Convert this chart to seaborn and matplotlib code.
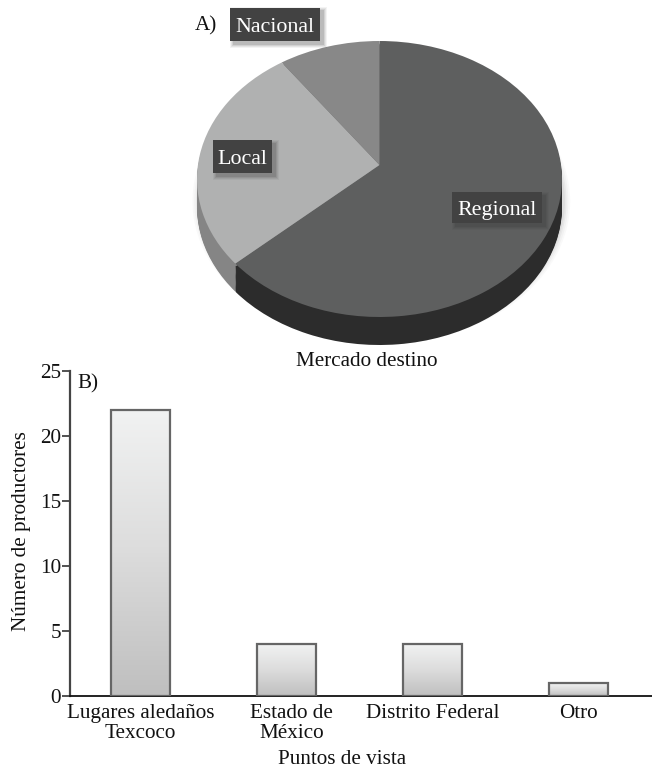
import numpy as np
import matplotlib
matplotlib.use("Agg")
import matplotlib.pyplot as plt
from matplotlib.patches import Rectangle, Ellipse
from matplotlib.transforms import Transform, ScaledTranslation
from matplotlib.colors import LinearSegmentedColormap
import seaborn as sns
import pandas as pd

# ---- data ----
market_labels = ["Regional", "Local", "Nacional"]
market_shares = [64.5, 26.5, 9]
market_colors = ["#5e5f5f", "#b0b1b1", "#888888"]
side_colors = ["#2c2c2c", "#858585", "#6e6e6e"]
places = ["Lugares aledaños\nTexcoco", "Estado de\nMéxico", "Distrito Federal", "Otro"]
producers = [22, 4, 4, 1]
y_ticks = [0, 5, 10, 15, 20, 25]

W, H = 652, 770
sns.set_theme(style="white")
plt.rcParams["font.family"] = ["Liberation Serif", "DejaVu Serif"]
fig = plt.figure(figsize=(W / 100, H / 100), dpi=100, facecolor="white")
FS = 15.2


def rect_px(x0, y0, x1, y1):
    return [x0 / W, 1 - y1 / H, (x1 - x0) / W, (y1 - y0) / H]


def ftext(x, y, s, **kw):
    kw.setdefault("fontsize", FS)
    kw.setdefault("color", "#111111")
    kw.setdefault("ha", "center")
    kw.setdefault("va", "center")
    return fig.text(x / W, 1 - y / H, s, **kw)


# ---- A) pie ----
class ApexShift(Transform):
    """Keeps the rim of the unit disc fixed and moves its centre (pseudo-3D tilt)."""
    input_dims = output_dims = 2

    def __init__(self, dy):
        super().__init__()
        self.dy = dy

    def transform_non_affine(self, xy):
        xy = np.asarray(xy, float)
        r = np.clip(np.hypot(xy[:, 0], xy[:, 1]), 0, 1)
        out = xy.copy()
        out[:, 1] += (1 - r) * self.dy
        return out


cx, cy, rx, ry = 379.5, 179, 182.5, 138
ax_pie = fig.add_axes(rect_px(cx - rx, cy - ry, cx + rx, cy + ry))
depth = 28 / ry

# soft shadow
for grow, a in [(0.035, 0.03), (0.025, 0.04), (0.015, 0.06), (0.006, 0.08)]:
    ax_pie.add_patch(Ellipse((0.01, -depth * 0.8), 2 + 2 * grow, 2 + 2 * grow, fc="#555555", ec="none",
                             alpha=a, clip_on=False, zorder=0))

# side wall
for off in np.linspace(depth, 0.02, 24):
    w_side, _ = ax_pie.pie(market_shares, colors=side_colors, startangle=90, counterclock=False,
                           center=(0, -off), wedgeprops={"linewidth": 0, "zorder": 1, "clip_on": False})

# top face
wedges, _ = ax_pie.pie(market_shares, colors=market_colors, startangle=90, counterclock=False,
                       wedgeprops={"linewidth": 0, "zorder": 3, "clip_on": False})
tr = ApexShift(14 / ry) + ax_pie.transData
for w in wedges:
    w.set_transform(tr)
ax_pie.set_aspect("auto")
ax_pie.set_xlim(-1, 1)
ax_pie.set_ylim(-1, 1)
ax_pie.axis("off")

# label boxes
boxes = {"Nacional": (230, 8, 320, 41), "Local": (213, 140, 272, 173), "Regional": (452, 192, 542, 223)}
for name in market_labels:
    x0, y0, x1, y1 = boxes[name]
    for g, a in [(3.5, 0.06), (2.5, 0.08), (1.5, 0.10), (0.5, 0.14)]:
        fig.add_artist(Rectangle(((x0 + 3 - g) / W, 1 - (y1 + 3 + g) / H), (x1 - x0 + 2 * g) / W,
                                 (y1 - y0 + 2 * g) / H, transform=fig.transFigure, fc="#333333",
                                 ec="none", alpha=a, zorder=5))
    fig.add_artist(Rectangle((x0 / W, 1 - y1 / H), (x1 - x0) / W, (y1 - y0) / H, transform=fig.transFigure,
                             fc="#424242", ec="none", zorder=6))
    ftext((x0 + x1) / 2, (y0 + y1) / 2 + 2.5, name, color="white", zorder=7, fontsize=FS + 0.6)

ftext(206, 26, "A)")
ftext(367, 361, "Mercado destino")

# ---- B) bars ----
ax = fig.add_axes(rect_px(70, 371, 652, 696))
df = pd.DataFrame({"lugar": places, "n": producers})
sns.barplot(data=df, x="lugar", y="n", ax=ax, width=0.4, color="white", edgecolor="#666666",
            linewidth=1.6, zorder=3)
cmap = LinearSegmentedColormap.from_list("g", ["#f1f2f2", "#dcdcdc", "#bfbfbf"])
for p in ax.patches:
    b = p.get_bbox()
    im = ax.imshow(np.linspace(0, 1, 128).reshape(-1, 1), cmap=cmap, aspect="auto", zorder=3.5,
                   extent=(b.x0, b.x1, b.y0, b.y1), origin="upper")
    im.set_clip_path(p)
    p.set_facecolor("none")
    p.set_zorder(4)
ax.set_xlim(-0.483, 3.504)
ax.set_ylim(0, 25)
ax.set_aspect("auto")
ax.set_yticks(y_ticks)
ax.set_xticks(range(len(places)))
ax.set_xticklabels(places, linespacing=1.06)
ax.tick_params(axis="y", left=True, length=5.5, width=1.2, color="#333333", labelsize=FS, pad=1, labelcolor="#111111")
ax.tick_params(axis="x", bottom=False, length=0, labelsize=FS, pad=6, labelcolor="#111111")
lab = ax.get_xticklabels()[1]
lab.set_transform(lab.get_transform() + ScaledTranslation(5 / 100, 0, fig.dpi_scale_trans))
ax.set_xlabel("")
ax.set_ylabel("")
for s in ["top", "right"]:
    ax.spines[s].set_visible(False)
ax.spines["left"].set_color("#444444")
ax.spines["left"].set_linewidth(1.6)
ax.spines["bottom"].set_color("#111111")
ax.spines["bottom"].set_linewidth(1.3)
ax.patch.set_alpha(0)

ftext(88, 384, "B)")
ftext(22, 531, "Número de productores", rotation=90)
ftext(342, 759, "Puntos de vista")

fig.savefig("out.png", dpi=100, facecolor="white")
